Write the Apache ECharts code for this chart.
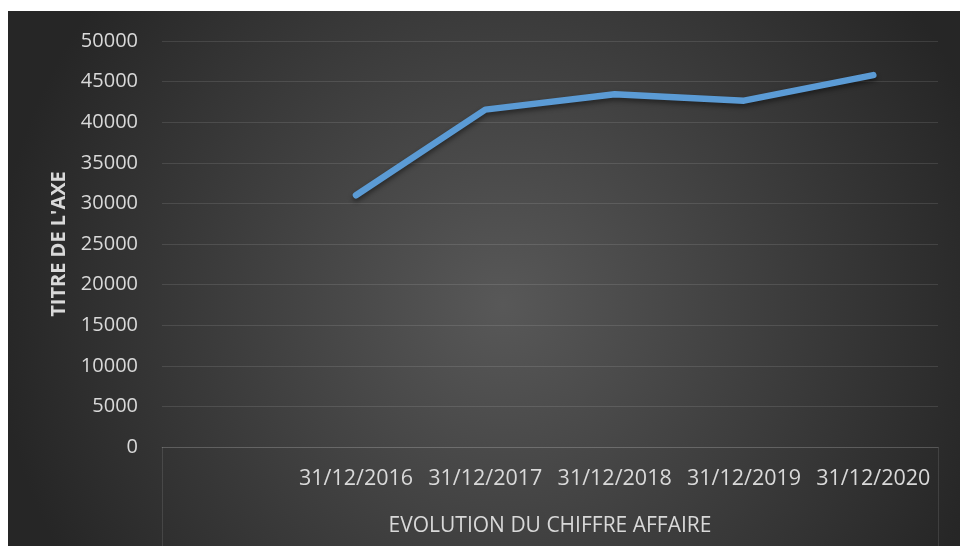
<!DOCTYPE html>
<html>
<head>
<meta charset="utf-8">
<script src="https://cdn.jsdelivr.net/npm/echarts@6/dist/echarts.min.js"></script>
<style>
  html, body { margin: 0; background: #ffffff; }
  #chart { position: absolute; left: 8px; top: 11px; width: 952px; height: 535px; }
</style>
</head>
<body>
<div id="chart"></div>
<script>
// categories (first slot is empty, as in the source sheet)
const categories = ['', '31/12/2016', '31/12/2017', '31/12/2018', '31/12/2019', '31/12/2020'];
const chiffreAffaire = ['-', 31000, 41550, 43450, 42650, 45800];
const groupLabels = ['EVOLUTION DU CHIFFRE AFFAIRE'];
const yMin = 0, yMax = 50000, yStep = 5000;

const txtColor = '#d9d9d9';
const lineGrey = 'rgba(255,255,255,0.11)';
const font = 'Open Sans';

const chart = echarts.init(document.getElementById('chart'));

const option = {
  backgroundColor: {
    type: 'radial', x: 0.52, y: 0.55, r: 0.95,
    colorStops: [
      { offset: 0, color: '#585858' },
      { offset: 1, color: '#262626' }
    ]
  },
  animation: false,
  grid: { left: 154, right: 22, top: 30, bottom: 99 },
  xAxis: [
    {
      type: 'category',
      data: categories,
      boundaryGap: true,
      axisLine: { lineStyle: { color: lineGrey, width: 1 } },
      axisTick: { show: false },
      axisLabel: { color: txtColor, fontSize: 21.5, fontFamily: font, margin: 21, interval: 0 }
    },
    {
      type: 'category',
      data: groupLabels,
      position: 'bottom',
      boundaryGap: true,
      axisLine: { show: false },
      axisTick: { show: true, length: 99, interval: 0, lineStyle: { color: lineGrey, width: 1 } },
      axisLabel: { color: txtColor, fontSize: 21, fontFamily: font, margin: 69 }
    }
  ],
  yAxis: {
    type: 'value',
    min: yMin,
    max: yMax,
    interval: yStep,
    name: "TITRE DE L'AXE",
    nameLocation: 'middle',
    nameGap: 93,
    nameTextStyle: { color: txtColor, fontSize: 20, fontWeight: 'bold', fontFamily: font },
    axisLine: { show: false },
    axisTick: { show: false },
    splitLine: { lineStyle: { color: lineGrey, width: 1 } },
    axisLabel: {
      color: txtColor, fontSize: 20, fontFamily: font, margin: 24,
      formatter: v => String(v)
    }
  },
  series: [{
    type: 'line',
    xAxisIndex: 0,
    data: chiffreAffaire,
    showSymbol: false,
    lineStyle: {
      color: '#5b9bd5',
      width: 6.5,
      cap: 'round',
      join: 'round',
      shadowColor: 'rgba(0,0,0,0.45)',
      shadowBlur: 5,
      shadowOffsetY: 3
    }
  }]
};

chart.setOption(option);
</script>
</body>
</html>
